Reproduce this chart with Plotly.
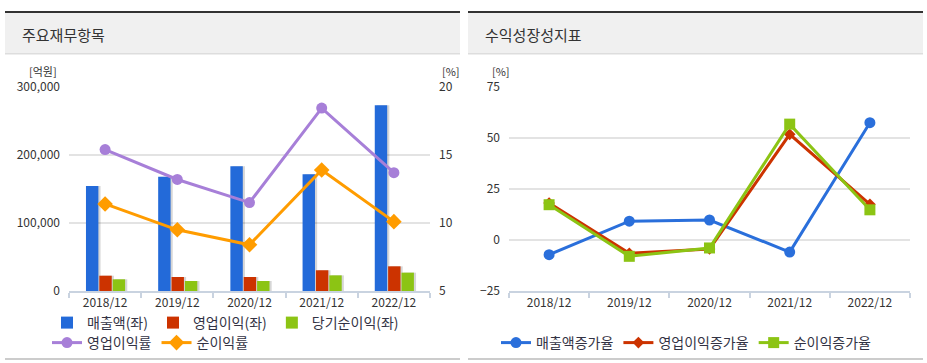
import plotly.graph_objects as go

W, H = 927, 363

# ---------------- data ----------------
categories = ["2018/12", "2019/12", "2020/12", "2021/12", "2022/12"]

sales = [154500, 168000, 183500, 171800, 273000]          # 매출액 (억원)
op_income = [22500, 20600, 20600, 30500, 36300]           # 영업이익 (억원)
net_income = [17200, 14700, 14700, 23000, 27000]          # 당기순이익 (억원)
op_margin = [15.4, 13.2, 11.5, 18.45, 13.7]               # 영업이익률 (%)
net_margin = [11.4, 9.5, 8.4, 13.9, 10.1]                 # 순이익률 (%)

sales_growth = [-7.2, 9.2, 9.8, -5.9, 57.5]               # 매출액증가율 (%)
op_growth = [18.1, -6.5, -4.4, 51.8, 17.5]                # 영업이익증가율 (%)
net_growth = [17.3, -8.0, -3.9, 56.8, 14.8]               # 순이익증가율 (%)

left_ticks = [0, 100000, 200000, 300000]
left_ticktext = ["0", "100,000", "200,000", "300,000"]
right_ticks = [5, 10, 15, 20]
growth_ticks = [-25, 0, 25, 50, 75]

# ---------------- styles ----------------
FONT = "Noto Sans CJK KR"
BLUE, RED, GREEN = "#236ad9", "#cc3300", "#8cc414"
PURPLE, ORANGE = "#a77fd8", "#ff9c00"
TXT = "#333333"
GRID = "#e3e3e3"
AXL = "#c9d3e0"


def px(x):
    return x / W


def py(y):
    return 1 - y / H


fig = go.Figure()

# bar shadows
bw = 0.172
offsets = [-0.265, -0.08, 0.105]
for vals, off in zip([sales, op_income, net_income], offsets):
    fig.add_trace(go.Bar(x=categories, y=vals, width=bw, offset=off + 0.03,
                         marker=dict(color="rgba(0,0,0,0.16)", line=dict(width=0)),
                         showlegend=False, hoverinfo="skip", xaxis="x", yaxis="y"))

for vals, off, col, name in zip([sales, op_income, net_income], offsets,
                                [BLUE, RED, GREEN],
                                ["매출액(좌)", "영업이익(좌)", "당기순이익(좌)"]):
    fig.add_trace(go.Bar(x=categories, y=vals, width=bw, offset=off, name=name,
                         marker=dict(color=col, line=dict(width=0)),
                         legend="legend", xaxis="x", yaxis="y"))

fig.add_trace(go.Scatter(x=categories, y=op_margin, name="영업이익률", mode="lines+markers",
                         line=dict(color=PURPLE, width=3),
                         marker=dict(symbol="circle", size=11, color=PURPLE),
                         legend="legend2", xaxis="x", yaxis="y2"))
fig.add_trace(go.Scatter(x=categories, y=net_margin, name="순이익률", mode="lines+markers",
                         line=dict(color=ORANGE, width=3),
                         marker=dict(symbol="diamond", size=12, color=ORANGE),
                         legend="legend2", xaxis="x", yaxis="y2"))

# right chart
fig.add_trace(go.Scatter(x=categories, y=sales_growth, name="매출액증가율", mode="lines+markers",
                         line=dict(color="#2a6fdb", width=3),
                         marker=dict(symbol="circle", size=11, color="#2a6fdb"),
                         legend="legend3", xaxis="x2", yaxis="y3"))
fig.add_trace(go.Scatter(x=categories, y=op_growth, name="영업이익증가율", mode="lines+markers",
                         line=dict(color=RED, width=3),
                         marker=dict(symbol="diamond", size=9, color=RED),
                         legend="legend3", xaxis="x2", yaxis="y3"))
fig.add_trace(go.Scatter(x=categories, y=net_growth, name="순이익증가율", mode="lines+markers",
                         line=dict(color=GREEN, width=3),
                         marker=dict(symbol="square", size=11, color=GREEN),
                         legend="legend3", xaxis="x2", yaxis="y3"))

tickfont = dict(family=FONT, size=12, color=TXT)
ydom = [py(291), py(87)]

xcommon = dict(type="category", range=[-0.5, 4.5], autorange=False,
               tickson="boundaries", ticks="outside", ticklen=5,
               tickcolor=AXL, tickwidth=1.5, showline=True, linecolor=AXL, linewidth=2,
               showgrid=False, tickfont=tickfont, fixedrange=True, automargin=False)

fig.update_layout(
    width=W, height=H, autosize=False,
    margin=dict(l=0, r=0, t=0, b=0, pad=0, autoexpand=False),
    paper_bgcolor="white", plot_bgcolor="white",
    barmode="overlay",
    font=dict(family=FONT, color=TXT),
    xaxis=dict(domain=[px(69), px(430)], anchor="y", **xcommon),
    yaxis=dict(domain=ydom, range=[0, 300000], tickvals=left_ticks, ticktext=left_ticktext,
               showgrid=True, gridcolor=GRID, gridwidth=2, zeroline=False, automargin=False,
               showline=False, ticks="", ticklabelstandoff=8, tickfont=tickfont, fixedrange=True),
    yaxis2=dict(domain=ydom, range=[5, 20], tickvals=right_ticks, overlaying="y", side="right",
                anchor="x", showgrid=False, zeroline=False, showline=False, ticks="", automargin=False,
                ticklabelstandoff=8, tickfont=tickfont, fixedrange=True),
    xaxis2=dict(domain=[px(509), px(910)], anchor="y3", **xcommon),
    yaxis3=dict(domain=ydom, range=[-25, 75], tickvals=growth_ticks, anchor="x2",
                showgrid=True, gridcolor=GRID, gridwidth=2, zeroline=False, automargin=False,
                showline=False, ticks="", ticklabelstandoff=8, tickfont=tickfont, fixedrange=True),
    legend=dict(orientation="h", x=px(47), xanchor="left", y=py(323), yanchor="middle",
                font=dict(family=FONT, size=14, color="#333344"), itemwidth=30,
                bgcolor="rgba(0,0,0,0)", tracegroupgap=0),
    legend2=dict(orientation="h", x=px(47), xanchor="left", y=py(343), yanchor="middle",
                 font=dict(family=FONT, size=14, color="#333344"), itemwidth=30,
                 bgcolor="rgba(0,0,0,0)"),
    legend3=dict(orientation="h", x=px(496), xanchor="left", y=py(343), yanchor="middle",
                 font=dict(family=FONT, size=14, color="#333344"), itemwidth=30,
                 bgcolor="rgba(0,0,0,0)"),
    hovermode=False,
)

shapes = []
for x0, x1 in [(5, 460), (468, 923)]:
    # header background
    shapes.append(dict(type="rect", xref="paper", yref="paper", x0=px(x0), x1=px(x1),
                       y0=py(53.5), y1=py(12.5), fillcolor="#f0f0f0", line=dict(width=0), layer="below"))
    # top dark line
    shapes.append(dict(type="rect", xref="paper", yref="paper", x0=px(x0), x1=px(x1),
                       y0=py(13), y1=py(11), fillcolor="#333333", line=dict(width=0), layer="below"))
    # header bottom line
    shapes.append(dict(type="rect", xref="paper", yref="paper", x0=px(x0), x1=px(x1),
                       y0=py(54.5), y1=py(53), fillcolor="#dddddd", line=dict(width=0), layer="below"))
    # bottom border
    shapes.append(dict(type="rect", xref="paper", yref="paper", x0=px(x0), x1=px(x1),
                       y0=py(360), y1=py(358), fillcolor="#cccccc", line=dict(width=0), layer="below"))
fig.update_layout(shapes=shapes)

ann = [
    dict(text="주요재무항목", x=px(20), y=py(34), xanchor="left", yanchor="middle",
         font=dict(family=FONT, size=15, color=TXT)),
    dict(text="수익성장성지표", x=px(483), y=py(34), xanchor="left", yanchor="middle",
         font=dict(family=FONT, size=15, color=TXT)),
    dict(text="[억원]", x=px(59), y=py(71), xanchor="right", yanchor="middle",
         font=dict(family=FONT, size=11, color=TXT)),
    dict(text="[%]", x=px(440), y=py(71), xanchor="left", yanchor="middle",
         font=dict(family=FONT, size=11, color=TXT)),
    dict(text="[%]", x=px(501), y=py(71), xanchor="center", yanchor="middle",
         font=dict(family=FONT, size=11, color=TXT)),
]
for a in ann:
    a.update(xref="paper", yref="paper", showarrow=False)
fig.update_layout(annotations=ann)

fig.write_html("out.html", config={"displayModeBar": False},
               post_script="document.body.style.margin='0';")
